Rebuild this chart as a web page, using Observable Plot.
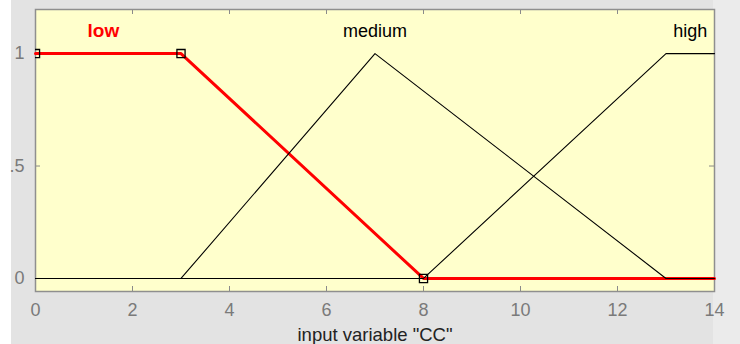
<!DOCTYPE html>
<html>
<head>
<meta charset="utf-8">
<script src="https://cdn.jsdelivr.net/npm/d3@7"></script>
<script src="https://cdn.jsdelivr.net/npm/@observablehq/plot@0.6"></script>
<style>
  html, body { margin: 0; padding: 0; background: #e3e3e3; }
  #chart { width: 740px; height: 344px; position: relative; overflow: hidden;
    background: linear-gradient(to right, #ffffff 0 11px, #e3e3e3 11px 713px, #ebebeb 713px); }
  #chart svg { display: block; }
</style>
</head>
<body>
<div id="chart"></div>
<script>
// Membership function names and parameters
const mfNames = ["low", "medium", "high"];
const mfTypes = ["trapmf", "trimf", "trapmf"];
const mfParams = [[0, 0, 3, 8], [3, 7, 13], [8, 13, 14, 14]];
const mfColors = ["#ff0000", "#000000", "#000000"];
const mfLabelX = [1.4, 7, 13.5];
const mfLabelY = 1.1;
const xRange = [0, 14];
const xTicks = [0, 2, 4, 6, 8, 10, 12, 14];
const yTicks = [0, 0.5, 1];
const yTickLabels = ["0", ".5", "1"];
const xLabel = 'input variable "CC"';

function vertices(type, p) {
  const [a, b] = xRange;
  if (type === "trimf") {
    return [[a, 0], [p[0], 0], [p[1], 1], [p[2], 0], [b, 0]];
  }
  const left = p[0] <= a ? 1 : 0, right = p[3] >= b ? 1 : 0;
  return [[a, left], [p[0], left], [p[1], 1], [p[2], 1], [p[3], right], [b, right]];
}

const lines = mfNames.map((name, i) =>
  vertices(mfTypes[i], mfParams[i]).map(([x, y]) => ({name, x, y})));

// corner markers of the selected MF ("low")
const sel = mfParams[0];
const markers = [{x: sel[1], y: 1}, {x: sel[2], y: 1}, {x: sel[3], y: 0}];

const labels = mfNames.map((name, i) => ({name, x: mfLabelX[i], y: mfLabelY, color: mfColors[i]}));

const font = "'Liberation Sans', Arial, sans-serif";
const W = 740, H = 344, ML = 35, MT = 9, MR = 26, MB = 53;
const fw = W - ML - MR, fh = H - MT - MB, tick = 5;

const plot = Plot.plot({
  width: W,
  height: H,
  marginLeft: ML,
  marginTop: MT,
  marginRight: MR,
  marginBottom: MB,
  style: {background: "transparent", fontFamily: font, overflow: "visible"},
  x: {domain: xRange},
  y: {domain: [-0.058, 1.196]},
  marks: [
    Plot.frame({fill: "#ffffcc", stroke: null}),
    // inward ticks
    Plot.ruleX(xTicks, {x: (d) => d, insetTop: fh - tick, stroke: "#8a8a8a"}),
    Plot.ruleX(xTicks, {x: (d) => d, insetBottom: fh - tick, stroke: "#8a8a8a"}),
    Plot.ruleY(yTicks, {y: (d) => d, insetRight: fw - tick, stroke: "#8a8a8a"}),
    Plot.ruleY(yTicks, {y: (d) => d, insetLeft: fw - tick, stroke: "#8a8a8a"}),
    // tick labels
    Plot.axisX(xTicks, {anchor: "bottom", tickSize: 0, tickPadding: 12, fill: "#7a7a7a", fontSize: 18, label: null}),
    Plot.axisY(yTicks, {anchor: "left", tickSize: 0, tickPadding: 11, fill: "#7a7a7a", fontSize: 18, label: null,
      tickFormat: (d) => yTickLabels[yTicks.indexOf(d)]}),
    Plot.frame({stroke: "#8f8f8f", strokeWidth: 1.5}),
    // selected MF (red, thick) first, others above
    Plot.line(lines[0], {x: "x", y: "y", stroke: mfColors[0], strokeWidth: 3}),
    Plot.line(lines[1], {x: "x", y: "y", stroke: mfColors[1], strokeWidth: 1.1}),
    Plot.line(lines[2], {x: "x", y: "y", stroke: mfColors[2], strokeWidth: 1.1}),
    Plot.dot(markers, {x: "x", y: "y", symbol: "square", r: 4.6, stroke: "#000", strokeWidth: 1.3, fill: "none", clip: true}),
    Plot.text(labels.slice(0, 1), {x: "x", y: "y", text: "name", fill: "color", fontSize: 19, fontWeight: "bold", lineAnchor: "middle"}),
    Plot.text(labels.slice(1), {x: "x", y: "y", text: "name", fill: "color", fontSize: 18, lineAnchor: "middle"}),
    Plot.text([xLabel], {frameAnchor: "bottom", dy: 44, lineAnchor: "middle", text: (d) => d, fill: "#222", fontSize: 18.5})
  ]
});
document.getElementById("chart").appendChild(plot);
</script>
</body>
</html>
